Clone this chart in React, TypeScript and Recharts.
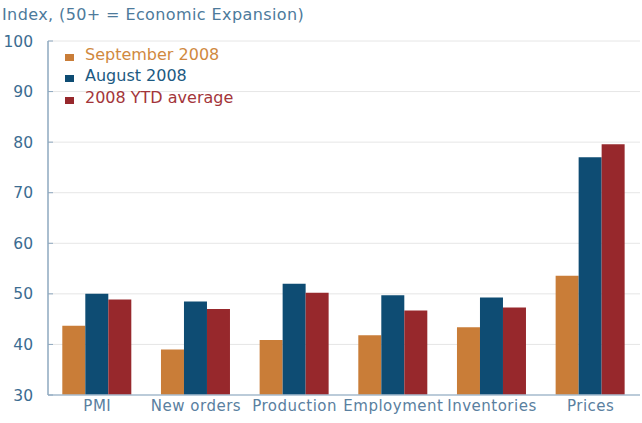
import React from "react";
import { BarChart, Bar, XAxis, YAxis, CartesianGrid, Legend } from "recharts";

const categories = ["PMI", "New orders", "Production", "Employment", "Inventories", "Prices"];
const september2008 = [43.7, 39.0, 40.9, 41.8, 43.4, 53.6];
const august2008 = [50.0, 48.5, 52.0, 49.7, 49.3, 77.0];
const ytdAverage2008 = [48.9, 47.0, 50.2, 46.7, 47.3, 79.6];
const yTicks = [30, 40, 50, 60, 70, 80, 90, 100];

const seriesInfo = [
  { key: "sep", name: "September 2008", color: "#c97d38", text: "#d0893f" },
  { key: "aug", name: "August 2008", color: "#0e4c73", text: "#1c5a82" },
  { key: "ytd", name: "2008 YTD average", color: "#97282c", text: "#a3353a" },
];

const data = categories.map((c, i) => ({
  name: c,
  sep: september2008[i],
  aug: august2008[i],
  ytd: ytdAverage2008[i],
}));

const FONT = "'DejaVu Sans', Verdana, sans-serif";

const YTick = (props: any) => {
  const { x, y, payload } = props;
  return (
    <g>
      <line x1={x + 15} x2={x + 20} y1={y} y2={y} stroke="#8ea8bf" strokeWidth={1} />
      <text x={x} y={y} dy="0.355em" textAnchor="end" fontFamily={FONT} fontSize={15.5} fill="#3b6c91">
        {payload.value}
      </text>
    </g>
  );
};

const LegendContent = () => (
  <div style={{ fontFamily: FONT, fontSize: 16, lineHeight: "21.3px" }}>
    {seriesInfo.map((s) => (
      <div key={s.key} style={{ position: "relative", height: 21.3, whiteSpace: "nowrap" }}>
        <span
          style={{
            position: "absolute",
            left: 0,
            top: 10,
            width: 9,
            height: 7,
            background: s.color,
          }}
        />
        <span style={{ position: "absolute", left: 20, top: 0, color: s.text }}>{s.name}</span>
      </div>
    ))}
  </div>
);

export default function App() {
  return (
    <div style={{ position: "absolute", left: 0, top: 0, width: 642, height: 423, background: "#fff" }}>
      <div
        style={{
          position: "absolute",
          left: 2,
          top: 7,
          fontFamily: FONT,
          fontSize: 16,
          lineHeight: "16px",
          letterSpacing: 0.4,
          color: "#4d7a9b",
          whiteSpace: "nowrap",
        }}
      >
        Index, (50+ = Economic Expansion)
      </div>
      <BarChart
        width={642}
        height={423}
        data={data}
        margin={{ top: 41, right: 2, bottom: 0, left: 0 }}
        barCategoryGap="14.5%"
        barGap={0}
      >
        <CartesianGrid vertical={false} stroke="#e6e6e6" strokeWidth={1} />
        <XAxis
          dataKey="name"
          height={28}
          tickLine={false}
          tickSize={0}
          tickMargin={5}
          axisLine={{ stroke: "#a9bed0", strokeWidth: 1.5 }}
          interval={0}
          tick={{ fontFamily: FONT, fontSize: 15, fill: "#5a80a0", letterSpacing: 0.5 }}
        />
        <YAxis
          width={48}
          domain={[30, 100]}
          ticks={yTicks}
          type="number"
          allowDataOverflow
          tickLine={false}
          tickSize={0}
          tickMargin={15}
          axisLine={{ stroke: "#8ea8bf", strokeWidth: 1.5 }}
          tick={<YTick />}
        />
        <Legend
          layout="vertical"
          align="center"
          verticalAlign="middle"
          content={<LegendContent />}
          wrapperStyle={{ left: 65, top: 44, width: 220, height: 66 }}
        />
        {seriesInfo.map((s) => (
          <Bar key={s.key} dataKey={s.key} name={s.name} fill={s.color} isAnimationActive={false} />
        ))}
      </BarChart>
    </div>
  );
}
